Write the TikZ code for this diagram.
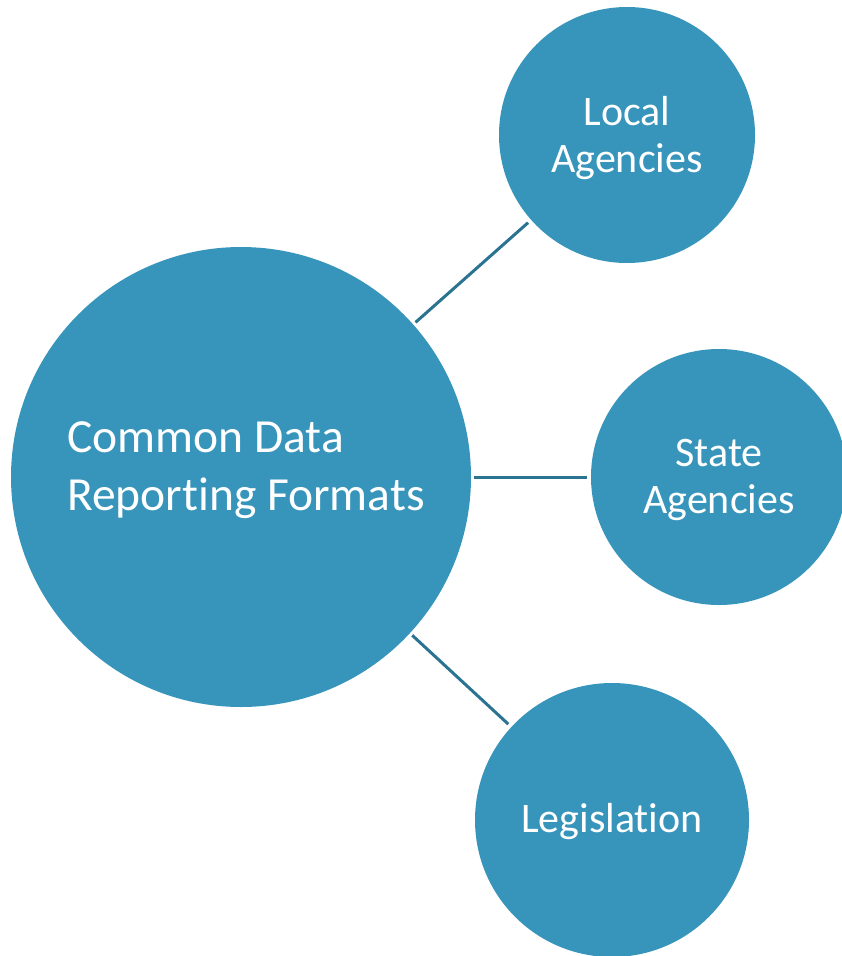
\documentclass[tikz,border=0pt]{standalone}
\usepackage{fontspec}
\setmainfont{Carlito}[Ligatures=NoCommon]
\definecolor{bub}{HTML}{3795BB}
\definecolor{lnk}{HTML}{2A7391}
\tikzset{
  bubble/.style={circle, fill=bub, draw=none, inner sep=0pt},
  lbl/.style={text=white, align=center, inner sep=0pt, font=\fontsize{42}{47}\selectfont},
  link/.style={draw=lnk, line width=3pt, shorten <=3pt, shorten >=4pt}
}
\begin{document}
\begin{tikzpicture}[x=1pt,y=-1pt]
\useasboundingbox (0,0) rectangle (841,956);
\node[bubble, minimum size=460pt] (core) at (241,477) {};
\node[anchor=west, text=white, align=left, inner sep=0pt, font=\fontsize{47.5}{58}\selectfont] (coretext) at (67,470) {Common Data\\Reporting Formats};
\node[bubble, minimum size=256pt] (local) at (627,135) {};
\node[lbl] (localtext) at (627,138) {Local\\Agencies};
\node[bubble, minimum size=256pt] (state) at (719,477) {};
\node[lbl] (statetext) at (719,480) {State\\Agencies};
\node[bubble, minimum size=274pt] (leg) at (612,820) {};
\node[lbl] (legtext) at (612,822) {Legislation};
\draw[link] (core) -- (local);
\draw[link] (core) -- (state);
\draw[link] (core) -- (leg);
\end{tikzpicture}
\end{document}
